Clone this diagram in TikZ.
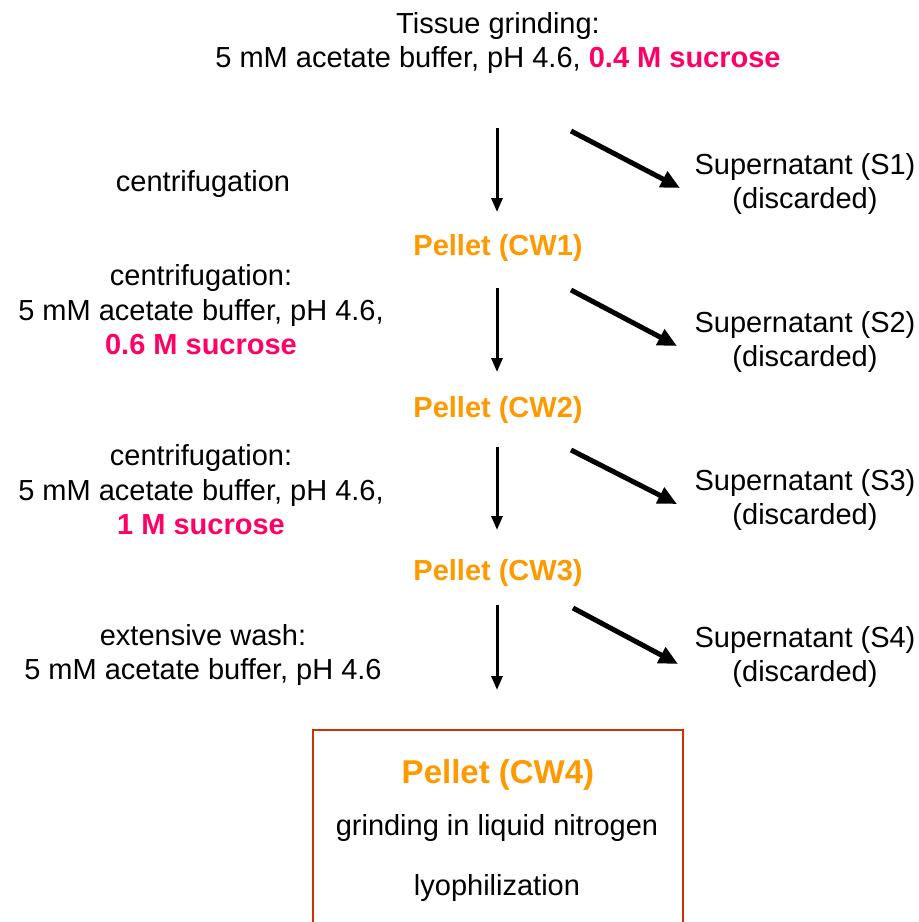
\documentclass[tikz,border=0pt]{standalone}
\usepackage{fontspec}
\setmainfont{Liberation Sans}
\usetikzlibrary{arrows.meta,positioning}
\definecolor{sucrose}{HTML}{FF0066}
\definecolor{pellet}{HTML}{FF9900}
\definecolor{boxline}{HTML}{CC3300}

\begin{document}
\begin{tikzpicture}[x=1pt,y=-1pt,
	txt/.style={font=\fontsize{29}{34.5}\selectfont,align=center,inner sep=0pt},
	pel/.style={txt,font=\fontsize{29}{34.5}\selectfont\bfseries,text=pellet},
	down/.style={line width=3pt,-{Triangle[length=14pt,width=11pt]}},
	away/.style={line width=5pt,-{Triangle[length=19pt,width=17pt]}}]
	\useasboundingbox (0,0) rectangle (919,922);
	% top
	\node[txt] (grind) at (498,43) {Tissue grinding:\\5 mM acetate buffer, pH 4.6, \textcolor{sucrose}{\bfseries 0.4 M sucrose}};
	% pellets
	\node[pel] (cw1) at (498,248) {Pellet (CW1)};
	\node[pel] (cw2) at (498,410) {Pellet (CW2)};
	\node[pel] (cw3) at (498,573) {Pellet (CW3)};
	% left side steps
	\node[txt] (step1) at (203,184) {centrifugation};
	\node[txt] (step2) at (201,310) {centrifugation:\\5 mM acetate buffer, pH 4.6,\\\textcolor{sucrose}{\bfseries 0.6 M sucrose}};
	\node[txt] (step3) at (201,490) {centrifugation:\\5 mM acetate buffer, pH 4.6,\\\textcolor{sucrose}{\bfseries 1 M sucrose}};
	\node[txt] (step4) at (203,655) {extensive wash:\\5 mM acetate buffer, pH 4.6};
	% supernatants
	\node[txt] (s1) at (805,184) {Supernatant (S1)\\(discarded)};
	\node[txt] (s2) at (805,342) {Supernatant (S2)\\(discarded)};
	\node[txt] (s3) at (805,500) {Supernatant (S3)\\(discarded)};
	\node[txt] (s4) at (805,657) {Supernatant (S4)\\(discarded)};
	% arrow ends
	\coordinate (d1a) at (497,128); \coordinate (d1b) at (497,212);
	\coordinate (d2a) at (497,288); \coordinate (d2b) at (497,372);
	\coordinate (d3a) at (497,447); \coordinate (d3b) at (497,530);
	\coordinate (d4a) at (497,605); \coordinate (d4b) at (497,690);
	\coordinate (a1a) at (571,131); \coordinate (a1b) at (680,188);
	\coordinate (a2a) at (571,290); \coordinate (a2b) at (677,346);
	\coordinate (a3a) at (571,450); \coordinate (a3b) at (677,504);
	\coordinate (a4a) at (573,608); \coordinate (a4b) at (678,664);
	\draw[down] (d1a) -- (d1b);
	\draw[down] (d2a) -- (d2b);
	\draw[down] (d3a) -- (d3b);
	\draw[down] (d4a) -- (d4b);
	\draw[away] (a1a) -- (a1b);
	\draw[away] (a2a) -- (a2b);
	\draw[away] (a3a) -- (a3b);
	\draw[away] (a4a) -- (a4b);
	% final box
	\draw[boxline,line width=1.5pt] (313,930) |- (683,730) -- (683,930);
	\node[pel,font=\fontsize{33}{38}\selectfont\bfseries] (cw4) at (498,775) {Pellet (CW4)};
	\node[txt] (liq) at (497,828) {grinding in liquid nitrogen};
	\node[txt] (lyo) at (497,888) {lyophilization};
\end{tikzpicture}
\end{document}
